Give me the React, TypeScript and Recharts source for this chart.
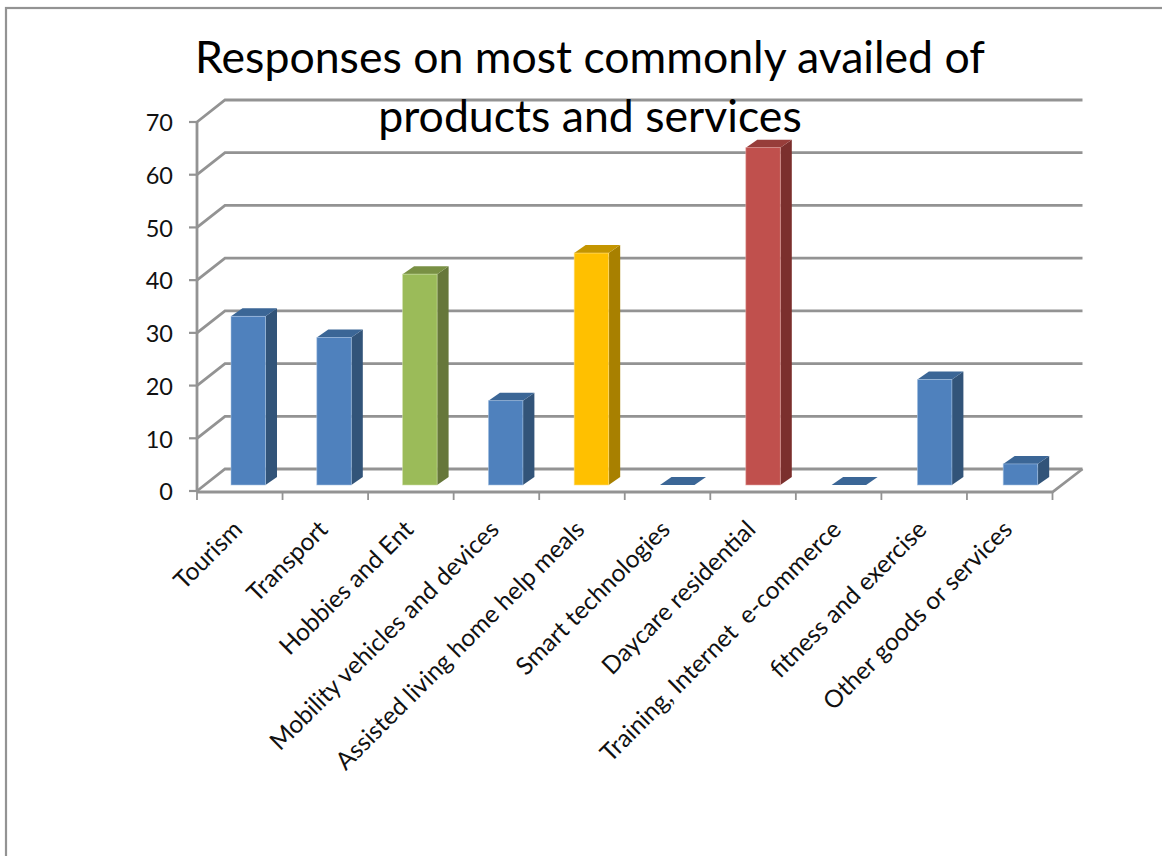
import React from "react";
import { BarChart, Bar, XAxis, YAxis, CartesianGrid } from "recharts";

const categories = [
  "Tourism",
  "Transport",
  "Hobbies and Ent",
  "Mobility vehicles and devices",
  "Assisted living home help meals",
  "Smart technologies",
  "Daycare residential",
  "Training, Internet  e-commerce",
  "fitness and exercise",
  "Other goods or services",
];
const responses = [32, 28, 40, 16, 44, 0, 64, 0, 20, 4];
const yTicks = [0, 10, 20, 30, 40, 50, 60, 70];
const titleLines = ["Responses on most commonly availed of", "products and services"];

const blue = { front: "#4f81bd", side: "#325479", top: "#3b6696", edge: "#a9c4e6" };
const green = { front: "#9bbb59", side: "#66773a", top: "#799044", edge: "#cfe0a8" };
const amber = { front: "#ffc000", side: "#a88000", top: "#c49500", edge: "#ffdf80" };
const red = { front: "#c0504d", side: "#7b2f2d", top: "#973d3a", edge: "#e6a9a7" };
const barPalette = [blue, blue, green, blue, amber, blue, red, blue, blue, blue];

const rows = categories.map((name, i) => ({ name, responses: responses[i] }));

const FONT = "Lato, Carlito, Calibri, sans-serif";
const AXIS = "#939393";
const AXIS_WIDTH = 2.8;
const WALL_DX = 28;
const WALL_DY = -22;
const BAR_DX = 8;
const BAR_DRIFT = 0.25;
const BAR_DY = -6;
const DEPTH_DX = 11.5;
const DEPTH_DY = -8;

// Each gridline runs from the front axis up the side wall and along the back wall.
function WallLine(props: any) {
  const { x1, x2, y1 } = props;
  const points = `${x1},${y1} ${x1 + WALL_DX},${y1 + WALL_DY} ${x2 + WALL_DX + 2},${y1 + WALL_DY}`;
  const isFloor = Math.abs(y1 - 491) < 1;
  return (
    <g>
      <polyline points={points} fill="none" stroke={AXIS} strokeWidth={AXIS_WIDTH} />
      {isFloor ? (
        <polyline
          points={`${x1},${y1 + 1} ${x2},${y1 + 1} ${x2 + WALL_DX + 2},${y1 + WALL_DY}`}
          fill="none"
          stroke={AXIS}
          strokeWidth={AXIS_WIDTH}
        />
      ) : null}
    </g>
  );
}

// Box drawn from the scaled bar rectangle: front face plus top and side faces.
function BoxBar(props: any) {
  const { x, y, width, height, index } = props;
  const c = barPalette[index];
  const l = x + BAR_DX + index * BAR_DRIFT;
  const r = l + width;
  const t = y + BAR_DY;
  const b = t + height;
  const top = `${l},${t} ${l + DEPTH_DX},${t + DEPTH_DY} ${r + DEPTH_DX},${t + DEPTH_DY} ${r},${t}`;
  const side = `${r},${t} ${r + DEPTH_DX},${t + DEPTH_DY} ${r + DEPTH_DX},${b + DEPTH_DY} ${r},${b}`;
  return (
    <g>
      {height > 0 ? <polygon points={side} fill={c.side} /> : null}
      <polygon points={top} fill={c.top} />
      {height > 0 ? (
        <rect
          x={l}
          y={t}
          width={width}
          height={height}
          fill={c.front}
          stroke={c.edge}
          strokeOpacity={0.7}
          strokeWidth={0.8}
        />
      ) : null}
    </g>
  );
}

const BAND = 85.55;

// Rotated category label; tick marks sit on the category boundaries.
function CategoryTick(props: any) {
  const { x, y, payload, index } = props;
  const axisY = 492;
  const left = x - BAND / 2;
  const right = x + BAND / 2;
  const lx = x + 4;
  const ly = y + 32;
  return (
    <g>
      <line x1={left} x2={left} y1={axisY} y2={axisY + 8} stroke={AXIS} strokeWidth={1.8} />
      {index === categories.length - 1 ? (
        <line x1={right} x2={right} y1={axisY} y2={axisY + 8} stroke={AXIS} strokeWidth={1.8} />
      ) : null}
      <text
        x={lx}
        y={ly}
        textAnchor="end"
        transform={`rotate(-45 ${lx} ${ly})`}
        fontFamily={FONT}
        fontSize={24.5}
        fill="#111"
        xmlSpace="preserve"
      >
        {payload.value}
      </text>
    </g>
  );
}

export default function App() {
  return (
    <div style={{ position: "absolute", left: 0, top: 0, width: 1162, height: 856, overflow: "hidden", background: "#fff" }}>
      <BarChart
        width={1162}
        height={856}
        data={rows}
        margin={{ top: 122, right: 109.5, bottom: 5, left: 137 }}
        barSize={34.5}
      >
        <rect x={6} y={8} width={1170} height={860} fill="none" stroke="#939393" strokeWidth={2.2} />
        <CartesianGrid vertical={false} horizontal={(p: any) => <WallLine key={p.key} {...p} />} />
        <XAxis
          dataKey="name"
          axisLine={false}
          tickLine={false}
          height={360}
          interval={0}
          tick={(p: any) => <CategoryTick {...p} />}
        />
        <YAxis
          width={60}
          domain={[0, 70]}
          ticks={yTicks}
          interval={0}
          axisLine={{ stroke: AXIS, strokeWidth: AXIS_WIDTH }}
          tickLine={{ stroke: AXIS, strokeWidth: 2.2 }}
          tickSize={8}
          tickMargin={16}
          tick={{ fontFamily: FONT, fontSize: 23.5, fill: "#111", dy: 1 }}
        />
        <Bar dataKey="responses" isAnimationActive={false} shape={(p: any) => <BoxBar {...p} />} />
        {titleLines.map((line, i) => (
          <text key={line} x={590} y={73 + i * 59} textAnchor="middle" fontFamily={FONT} fontSize={44.6} fill="#000">
            {line}
          </text>
        ))}
      </BarChart>
    </div>
  );
}
